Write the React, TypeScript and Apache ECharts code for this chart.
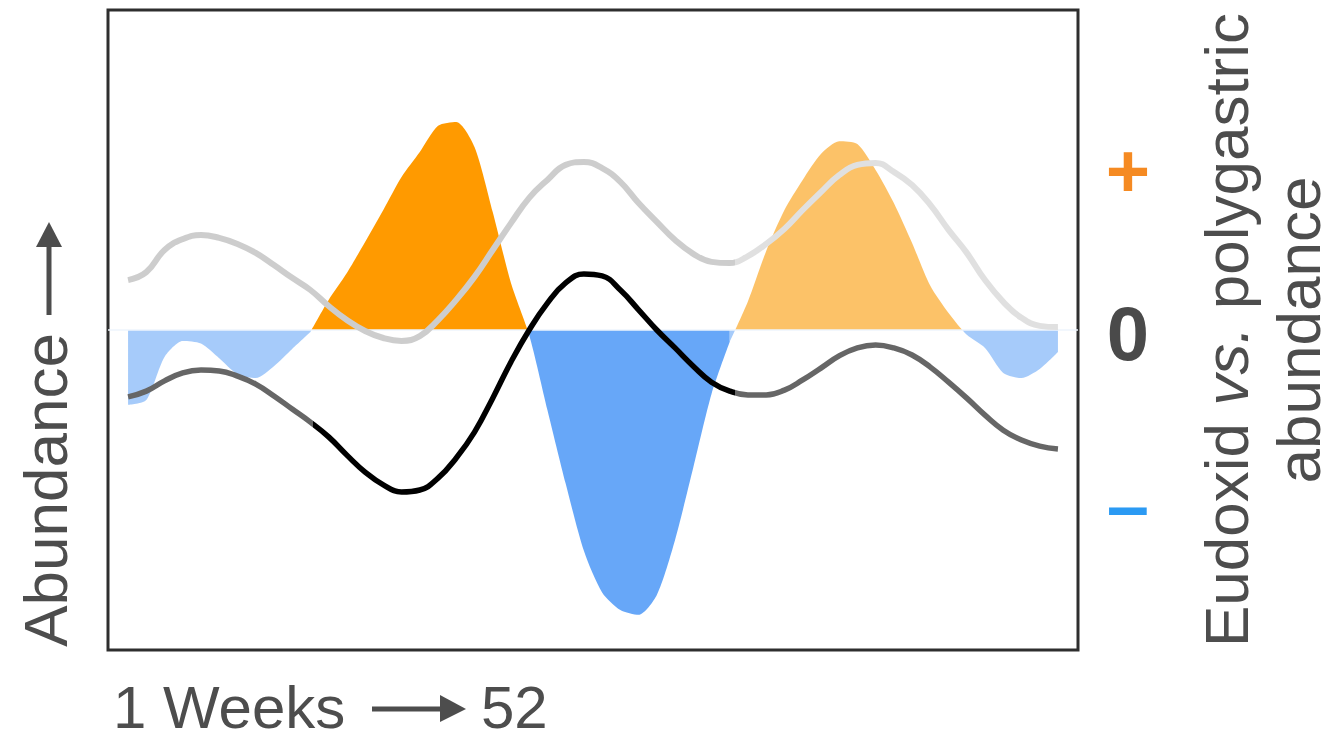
import React, { useEffect, useRef } from "react";
import * as echarts from "echarts";

// Week numbers (x categories)
const weeks = [
  1, 2, 3, 4, 5, 6, 7, 8, 9, 10, 11, 12, 13, 14, 15, 16, 17, 18, 19, 20, 21, 22, 23, 24, 25, 26,
  27, 28, 29, 30, 31, 32, 33, 34, 35, 36, 37, 38, 39, 40, 41, 42, 43, 44, 45, 46, 47, 48, 49, 50, 51, 52,
];

// Eudoxid vs. polygastric difference (filled area)
const difference = [
  -2.34, -2.19, -0.84, -0.34, -0.42, -0.88, -1.38, -1.5, -1.13, -0.59, -0.06,
  0.94, 1.78, 2.75, 3.75, 4.78, 5.56, 6.38, 6.5, 5.72, 3.69, 1.47,
  -0.16, -2.5, -4.8, -6.9, -8.2, -8.75, -8.9, -8.28, -6.56, -4.3, -2.0, -0.37,
  0.9, 2.47, 3.75, 4.69, 5.5, 5.9, 5.81, 5.0, 3.97, 2.72, 1.38, 0.53,
  -0.15, -0.56, -1.34, -1.5, -1.22, -0.69,
];

// Upper (light grey) abundance line
const eudoxidAbundance = [
  1.56, 1.81, 2.5, 2.84, 2.97, 2.88, 2.69, 2.41, 2.03, 1.63, 1.25, 0.75, 0.31,
  -0.03, -0.25, -0.34, -0.19, 0.31, 0.94, 1.66, 2.5, 3.34, 4.13, 4.69, 5.16, 5.25,
  5.06, 4.63, 3.97, 3.38, 2.81, 2.38, 2.13, 2.09, 2.31, 2.69, 3.16, 3.75, 4.31,
  4.84, 5.16, 5.22, 4.94, 4.53, 3.91, 3.13, 2.41, 1.56, 0.88, 0.38, 0.13, 0.09,
];

// Lower (dark) abundance line
const polygastricAbundance = [
  -2.09, -1.91, -1.59, -1.34, -1.25, -1.28, -1.44, -1.69, -2.06, -2.47, -2.88, -3.34, -3.91,
  -4.44, -4.84, -5.06, -5.0, -4.63, -4.0, -3.19, -2.13, -1.0, 0.0, 0.84, 1.47, 1.75,
  1.69, 1.25, 0.63, 0.0, -0.56, -1.13, -1.63, -1.91, -2.03, -2.03, -1.88, -1.56, -1.19,
  -0.81, -0.56, -0.47, -0.56, -0.78, -1.16, -1.63, -2.13, -2.66, -3.13, -3.44, -3.63, -3.72,
];

// Period boundaries (indices into weeks) and the week where colours change
const periodStart = [0, 10, 33];
const periodEnd = [10, 33, 51];
const periodSwitchWeeks = [11.15, 34.3];

const positiveColors = ["#FCC268", "#FF9A00", "#FCC268"];
const negativeColors = ["#A6CBFA", "#67A7F8", "#A6CBFA"];

const sideLabels = ["+", "0", "–"];

export default function App() {
  const ref = useRef<HTMLDivElement>(null);

  useEffect(() => {
    if (!ref.current) return;
    const chart = echarts.init(ref.current, undefined, { renderer: "svg" });

    const areaSeries = periodStart.map((s, p) => ({
      type: "line",
      name: "difference" + p,
      data: weeks.slice(s, periodEnd[p] + 1).map((w, k) => [w, difference[s + k]]),
      smooth: 0.25,
      symbol: "none",
      lineStyle: { width: 0 },
      areaStyle: { opacity: 1 },
      z: 2,
      silent: true,
      ...(p === 2
        ? {
            markLine: {
              silent: true,
              symbol: "none",
              label: { show: false },
              lineStyle: { color: "#eef4fc", width: 1.5, type: "solid" },
              data: [{ yAxis: 0 }],
              z: 3,
            },
          }
        : {}),
    }));

    const lineSeries = [
      {
        type: "line",
        name: "upper",
        data: weeks.map((w, i) => [w, eudoxidAbundance[i]]),
        smooth: 0.45,
        symbol: "none",
        lineStyle: { width: 6 },
        z: 4,
        silent: true,
      },
      {
        type: "line",
        name: "lower",
        data: weeks.map((w, i) => [w, polygastricAbundance[i]]),
        smooth: 0.45,
        symbol: "none",
        lineStyle: { width: 5.5 },
        z: 5,
        silent: true,
      },
    ];

    const visualMaps: any[] = periodStart.map((_, p) => ({
      type: "piecewise",
      show: false,
      seriesIndex: p,
      dimension: 1,
      pieces: [
        { min: -100, max: 0, color: negativeColors[p] },
        { min: 0, max: 100, color: positiveColors[p] },
      ],
    }));
    visualMaps.push({
      type: "piecewise",
      show: false,
      seriesIndex: 3,
      dimension: 0,
      pieces: [
        { min: -10, max: periodSwitchWeeks[1], color: "#CDCDCD" },
        { min: periodSwitchWeeks[1], max: 100, color: "#E0E0E0" },
      ],
    });
    visualMaps.push({
      type: "piecewise",
      show: false,
      seriesIndex: 4,
      dimension: 0,
      pieces: [
        { min: -10, max: periodSwitchWeeks[0], color: "#666666" },
        { min: periodSwitchWeeks[0], max: periodSwitchWeeks[1], color: "#000000" },
        { min: periodSwitchWeeks[1], max: 100, color: "#666666" },
      ],
    });

    const textColor = "#4d4d4d";
    const font = "'Liberation Sans', Arial, Helvetica, sans-serif";

    chart.setOption({
      animation: false,
      backgroundColor: "#ffffff",
      grid: {
        left: 108,
        top: 10,
        width: 970,
        height: 640,
        show: true,
        borderColor: "#2e2e2e",
        borderWidth: 3,
        backgroundColor: "transparent",
        containLabel: false,
      },
      xAxis: { type: "value", min: -0.1, max: 53.1, show: false },
      yAxis: { type: "value", min: -10, max: 10, show: false },
      visualMap: visualMaps,
      series: [...areaSeries, ...lineSeries],
      graphic: [
        // left axis title
        {
          type: "text",
          x: 45,
          y: 490,
          rotation: Math.PI / 2,
          style: {
            text: "Abundance",
            font: `62px ${font}`,
            fill: textColor,
            align: "center",
            verticalAlign: "middle",
          },
        },
        { type: "line", shape: { x1: 49, y1: 315, x2: 49, y2: 244 }, style: { stroke: textColor, lineWidth: 5 } },
        { type: "polygon", shape: { points: [[36, 247], [62, 247], [49, 222]] }, style: { fill: textColor } },
        // bottom axis title
        {
          type: "text",
          x: 113,
          y: 707,
          style: { text: "1 Weeks", font: `60px ${font}`, fill: textColor, align: "left", verticalAlign: "middle" },
        },
        { type: "line", shape: { x1: 372, y1: 709, x2: 444, y2: 709 }, style: { stroke: textColor, lineWidth: 5 } },
        { type: "polygon", shape: { points: [[440, 695], [440, 722], [466, 709]] }, style: { fill: textColor } },
        {
          type: "text",
          x: 481,
          y: 707,
          style: { text: "52", font: `60px ${font}`, fill: textColor, align: "left", verticalAlign: "middle" },
        },
        // right side sign labels
        {
          type: "text",
          x: 1128,
          y: 170,
          style: { text: sideLabels[0], font: `bold 76px ${font}`, fill: "#F58A22", align: "center", verticalAlign: "middle" },
        },
        {
          type: "text",
          x: 1128,
          y: 333,
          style: { text: sideLabels[1], font: `bold 76px ${font}`, fill: "#4a4a4a", align: "center", verticalAlign: "middle" },
        },
        {
          type: "text",
          x: 1128,
          y: 505,
          style: { text: sideLabels[2], font: `bold 76px ${font}`, fill: "#2B9AF3", align: "center", verticalAlign: "middle" },
        },
        // right axis title
        {
          type: "text",
          x: 1262,
          y: 330,
          rotation: Math.PI / 2,
          style: {
            text: "{n|Eudoxid }{i|vs.}{n| polygastric}\n{n|abundance}",
            align: "center",
            verticalAlign: "middle",
            fill: textColor,
            rich: {
              n: { font: `62px ${font}`, fill: textColor, lineHeight: 72 },
              i: { font: `italic 62px ${font}`, fill: textColor, lineHeight: 72 },
            },
          },
        },
      ],
    });

    return () => chart.dispose();
  }, []);

  return (
    <div
      ref={ref}
      style={{ position: "fixed", left: 0, top: 0, width: 1334, height: 739, background: "#fff" }}
    />
  );
}
